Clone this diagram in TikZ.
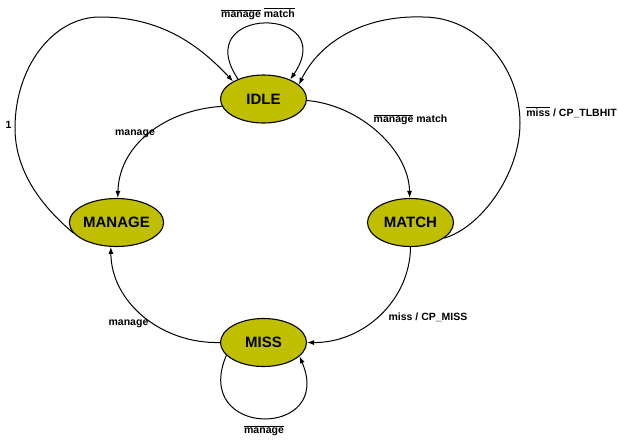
\documentclass[tikz,border=0pt]{standalone}
\usepackage{fontspec}
\setmainfont{Liberation Sans}
\usetikzlibrary{shapes.geometric,arrows.meta}
\definecolor{statefill}{RGB}{191,191,0}
\newcommand\ovl[1]{$\overline{\mbox{#1}}$}
\begin{document}
\begin{tikzpicture}[x=1pt,y=-1pt,
  state/.style={ellipse,draw=black,line width=1.1pt,fill=statefill,minimum width=86pt,minimum height=48pt,inner sep=0pt,font=\fontsize{15}{18}\selectfont\bfseries},
  trans/.style={line width=1pt,-{Latex[length=7pt,width=5pt]}},
  lbl/.style={font=\fontsize{10.5}{12}\selectfont\bfseries,anchor=base,inner sep=0pt}]
\useasboundingbox (0,0) rectangle (618,439);
\node[state] (IDLE) at (263.5,99) {IDLE};
\node[state] (MANAGE) at (116.5,222.5) {MANAGE};
\node[state] (MATCH) at (410.5,222.5) {MATCH};
\node[state] (MISS) at (263.5,342.5) {MISS};
% IDLE self loop
\draw[trans] (IDLE.142) .. controls (188,5) and (341,5) .. (IDLE.36);
% MANAGE -> IDLE (1)
\draw[trans] (MANAGE.194) .. controls (40,205) and (15,170) .. (15,128)
  .. controls (15,67) and (53,17) .. (100,17)
  .. controls (160,17) and (198,44) .. (IDLE.150);
% IDLE -> MANAGE
\draw[trans] (IDLE.190) .. controls (165,110) and (119,145) .. (MANAGE.87);
% IDLE -> MATCH
\draw[trans] (IDLE.358) .. controls (360,105) and (409,150) .. (MATCH.92);
% MATCH -> IDLE
\draw[trans] (MATCH.335) .. controls (480,228) and (520,175) .. (520,123)
  .. controls (520,65) and (476,17) .. (423,17)
  .. controls (360,15) and (318,45) .. (IDLE.22);
% MATCH -> MISS
\draw[trans] (MATCH.south) .. controls (410,300) and (364,343) .. (MISS.east);
% MISS -> MANAGE
\draw[trans] (MISS.west) .. controls (160,344) and (111,301) .. (MANAGE.257);
% MISS self loop
\draw[trans] (MISS.199) .. controls (191,439) and (335,439) .. (MISS.339);
% labels
\node[lbl] (lidle) at (258,17.5) {\ovl{manage} \ovl{match}};
\node[lbl] (lone) at (8.5,128.8) {1};
\node[lbl] (lman) at (135,135.7) {manage};
\node[lbl] (lmatch) at (410.5,122) {\ovl{manage} match};
\node[lbl] (lhit) at (571.5,116.7) {\ovl{miss} / CP\_TLBHIT};
\node[lbl] (lmiss) at (428,320.7) {miss / CP\_MISS};
\node[lbl] (lman2) at (128.5,325) {manage};
\node[lbl] (lman3) at (264,433.5) {\ovl{manage}};
\end{tikzpicture}
\end{document}
